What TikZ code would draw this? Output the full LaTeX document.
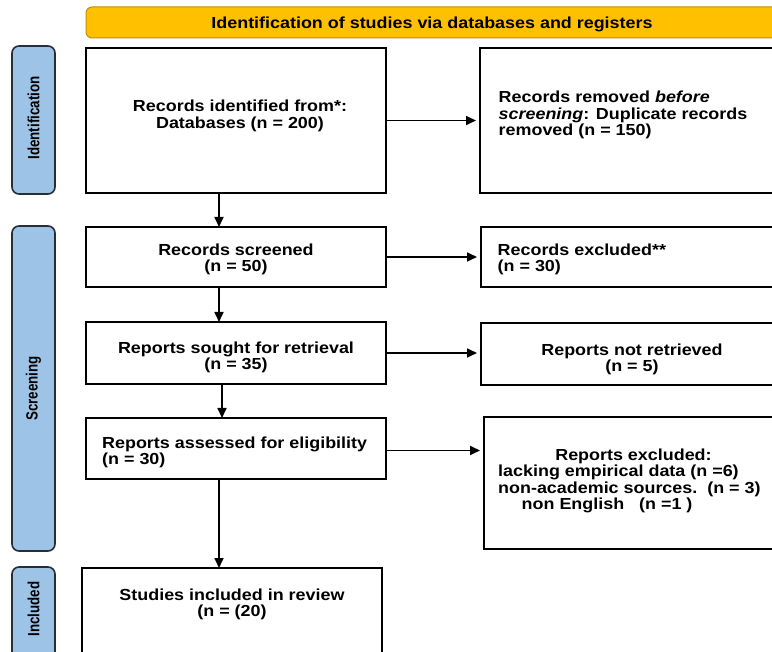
\documentclass[tikz,border=0pt]{standalone}
\usepackage{fontspec}
\setmainfont{Liberation Sans}
\usepackage{graphicx}
\usetikzlibrary{arrows.meta}
\definecolor{bannerfill}{RGB}{255,192,0}
\definecolor{bannerdraw}{RGB}{191,144,0}
\definecolor{labfill}{RGB}{157,195,230}
\definecolor{labdraw}{RGB}{40,45,55}
\newcommand{\wtxt}[1]{\scalebox{1.12}[1]{#1}}
\newcommand{\vlab}[1]{\scalebox{1.12}[1]{\rotatebox{90}{\scalebox{0.92}[1]{#1}}}}
\begin{document}
\begin{tikzpicture}[x=1pt,y=-1pt,
  box/.style={draw=black, line width=1.8pt, fill=white, anchor=north west, inner sep=0pt, outer sep=0pt},
  lab/.style={draw=labdraw, line width=1.6pt, fill=labfill, rounded corners=7pt, anchor=north west, inner sep=0pt, outer sep=0pt},
  banner/.style={draw=bannerdraw, line width=1pt, fill=bannerfill, rounded corners=6pt, anchor=north west, inner sep=0pt, outer sep=0pt},
  txt/.style={inner sep=0pt, font=\bfseries\fontsize{16}{15}\selectfont},
  labtxt/.style={inner sep=0pt, font=\bfseries\fontsize{14.5}{15}\selectfont},
  arr/.style={-{Triangle[length=10pt,width=9pt]}, line width=1.7pt},
  harr/.style={arr, shorten >=4pt}]
\useasboundingbox (0,0) rectangle (772,652);
\clip (0,0) rectangle (772,652);
\fill[white] (0,0) rectangle (772,652);
% banner
\node[banner, minimum width=720pt, minimum height=31pt] (ban) at (86,7) {};
\node[txt, anchor=base] (bant) at (432,28.5) {\wtxt{Identification of studies via databases and registers}};
% side labels
\node[lab, minimum width=43pt, minimum height=148pt] (l1) at (12,46) {};
\node[lab, minimum width=43pt, minimum height=325pt] (l2) at (12,226) {};
\node[lab, minimum width=43pt, minimum height=110pt] (l3) at (12,567) {};
\node[labtxt] (l1t) at (33.5,118) {\vlab{Identification}};
\node[labtxt] (l2t) at (l2.center) {\vlab{Screening}};
\node[labtxt] (l3t) at (33.5,609) {\vlab{Included}};
% boxes
\node[box, minimum width=300pt, minimum height=145pt] (b1) at (86,48) {};
\node[box, minimum width=330pt, minimum height=145pt] (b2) at (480,48) {};
\node[box, minimum width=300pt, minimum height=60pt] (b3) at (86,227) {};
\node[box, minimum width=330pt, minimum height=60pt] (b4) at (481,227) {};
\node[box, minimum width=300pt, minimum height=62pt] (b5) at (86,322) {};
\node[box, minimum width=330pt, minimum height=62pt] (b6) at (481,323) {};
\node[box, minimum width=300pt, minimum height=61pt] (b7) at (86,418) {};
\node[box, minimum width=330pt, minimum height=132pt] (b8) at (484,417) {};
\node[box, minimum width=300pt, minimum height=110pt] (b9) at (82,568) {};
% texts
\node[txt] (t1) at (240,116.5) {\wtxt{\begin{tabular}{@{}c@{}}Records identified from*:\\Databases (n = 200)\end{tabular}}};
\node[txt, anchor=west] (t2) at (498.5,115.5) {\wtxt{\begin{tabular}{@{}l@{}}Records removed \textit{before}\\\textit{screening}: Duplicate records\\removed (n = 150)\end{tabular}}};
\node[txt] (t3) at (236,260) {\wtxt{\begin{tabular}{@{}c@{}}Records screened\\(n = 50)\end{tabular}}};
\node[txt, anchor=west] (t4) at (497.5,260) {\wtxt{\begin{tabular}{@{}l@{}}Records excluded**\\(n = 30)\end{tabular}}};
\node[txt] (t5) at (236,358) {\wtxt{\begin{tabular}{@{}c@{}}Reports sought for retrieval\\(n = 35)\end{tabular}}};
\node[txt] (t6) at (632,360) {\wtxt{\begin{tabular}{@{}c@{}}Reports not retrieved\\(n = 5)\end{tabular}}};
\node[txt, anchor=west] (t7) at (102,453) {\wtxt{\begin{tabular}{@{}l@{}}Reports assessed for eligibility\\(n = 30)\end{tabular}}};
\node[txt, anchor=west] (t8) at (498,481.5) {\wtxt{\begin{tabular}{@{}l@{}}\hspace*{51pt}Reports excluded:\\lacking empirical data (n =6)\\non-academic sources.\ \ (n = 3)\\\hspace*{21pt}non English\ \ \ (n =1 )\end{tabular}}};
\node[txt] (t9) at (232,605) {\wtxt{\begin{tabular}{@{}c@{}}Studies included in review\\(n = (20)\end{tabular}}};
% connectors
\coordinate (a7) at ([yshift=-2pt]b7.east);
\draw[arr] (219,0 |- b1.south) -- (219,0 |- b3.north);
\draw[arr] (219,0 |- b3.south) -- (219,0 |- b5.north);
\draw[arr] (222,0 |- b5.south) -- (222,0 |- b7.north);
\draw[arr] (219,0 |- b7.south) -- (219,0 |- b9.north);
\draw[harr] (b1.east) -- (b2.west |- b1.east);
\draw[harr] (b3.east) -- (b4.west |- b3.east);
\draw[harr] (b5.east) -- (b6.west |- b5.east);
\draw[harr] (a7) -- (b8.west |- a7);
\end{tikzpicture}
\end{document}
